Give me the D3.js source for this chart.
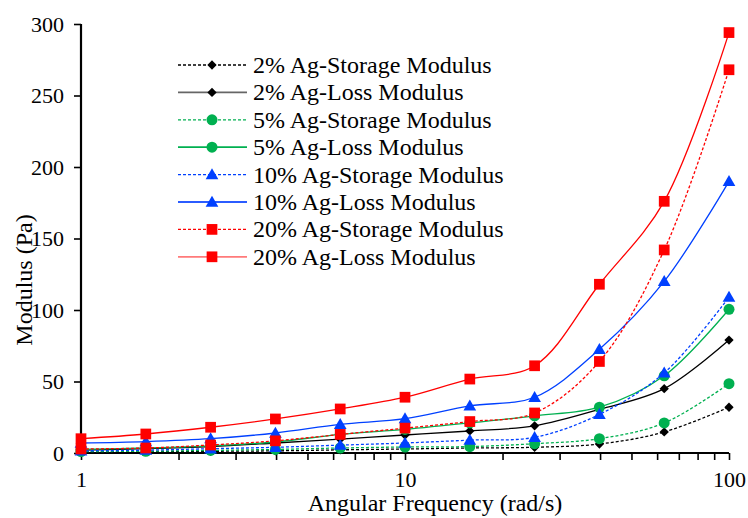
<!DOCTYPE html>
<html>
<head>
<meta charset="utf-8">
<script src="https://cdn.jsdelivr.net/npm/d3@7"></script>
<style>
  html, body { margin: 0; padding: 0; background: #fff; }
  svg { display: block; font-family: "Liberation Serif", "Times New Roman", serif; }
</style>
</head>
<body>
<svg id="chart" width="748" height="518"></svg>
<script>
// Angular frequency sweep (rad/s)
const frequency = [1, 1.585, 2.512, 3.981, 6.31, 10, 15.85, 25.12, 39.81, 63.1, 100];

// Modulus values (Pa) per silver loading
const ag2Storage  = [0.8, 1.0, 1.2, 1.5, 2.2, 2.8, 3.5, 4.0, 6.3, 14.7, 32];
const ag2Loss     = [2.0, 3.0, 4.5, 7.0, 9.7, 12.6, 15.4, 19, 30.5, 45, 79];
const ag5Storage  = [1.0, 1.2, 1.8, 2.5, 3.5, 4.2, 4.5, 6.5, 10, 21, 48.5];
const ag5Loss     = [2.5, 3.5, 5.0, 7.7, 13, 16.5, 21, 26, 32, 54, 100.5];
const ag10Storage = [1.5, 2.0, 3.0, 4.0, 5.5, 7.0, 9.0, 11, 27, 56, 109];
const ag10Loss    = [7.0, 8.0, 10, 14, 20, 24, 33, 39, 72.5, 120, 190];
const ag20Storage = [2.8, 3.5, 5.6, 8.5, 13, 17.4, 22, 28, 64, 142, 268];
const ag20Loss    = [10, 13.3, 18, 23.8, 30.8, 39, 51.7, 61, 118, 176, 294];

const xTicks = [1, 10, 100];
const yTicks = [0, 50, 100, 150, 200, 250, 300];

const seriesNames = [
  "2% Ag-Storage Modulus", "2% Ag-Loss Modulus",
  "5% Ag-Storage Modulus", "5% Ag-Loss Modulus",
  "10% Ag-Storage Modulus", "10% Ag-Loss Modulus",
  "20% Ag-Storage Modulus", "20% Ag-Loss Modulus"
];
const seriesValues = [ag2Storage, ag2Loss, ag5Storage, ag5Loss, ag10Storage, ag10Loss, ag20Storage, ag20Loss];
const seriesColors = ["#000000", "#000000", "#00B050", "#00B050", "#0040FF", "#0040FF", "#FF0000", "#FF0000"];
const legendLineColors = ["#000000", "#666666", "#00B050", "#00B050", "#0040FF", "#2b5cff", "#FF0000", "#ff7a7a"];
const seriesMarkers = ["diamond", "diamond", "circle", "circle", "triangle", "triangle", "square", "square"];
const seriesDashed = [true, false, true, false, true, false, true, false];

const svg = d3.select("#chart");
const plotLeft = 81, plotRight = 729, plotTop = 24, plotBottom = 453;

const x = d3.scaleLog().domain([1, 100]).range([plotLeft, plotRight]);
const y = d3.scaleLinear().domain([0, 300]).range([plotBottom, plotTop]);

// y axis
const yAxis = svg.append("g")
  .attr("transform", `translate(${plotLeft},0)`)
  .call(d3.axisLeft(y).tickValues(yTicks).tickSize(7).tickPadding(10).tickFormat(d3.format("d")));
// x axis with log minor ticks
const minorTicks = [];
for (let dec = 1; dec < 100; dec *= 10) for (let k = 1; k <= 9; k++) minorTicks.push(dec * k);
minorTicks.push(100);
const xAxis = svg.append("g")
  .attr("transform", `translate(0,${plotBottom})`)
  .call(d3.axisBottom(x).tickValues(minorTicks).tickSize(7).tickPadding(11)
    .tickFormat(d => xTicks.includes(d) ? d3.format("d")(d) : ""));

[yAxis, xAxis].forEach(g => {
  g.select(".domain").attr("stroke", "#000").attr("stroke-width", 2.2);
  g.selectAll(".tick line").attr("stroke", "#000").attr("stroke-width", 1.6);
  g.selectAll("text").attr("fill", "#000").style("font-size", "22px")
    .style("font-family", "'Liberation Serif', 'Times New Roman', serif");
});
yAxis.select(".domain").attr("d", `M0,${plotBottom}V${plotTop}`);
xAxis.select(".domain").attr("d", `M${plotLeft},0H${plotRight}`);

// axis titles
svg.append("text")
  .attr("x", 435).attr("y", 511)
  .attr("text-anchor", "middle")
  .style("font-size", "24px")
  .text("Angular Frequency (rad/s)");
svg.append("text")
  .attr("transform", "translate(32,280) rotate(-90)")
  .attr("text-anchor", "middle")
  .style("font-size", "24px")
  .text("Modulus (Pa)");

// marker drawing
const symbolTypes = {
  diamond: d3.symbolDiamond2,
  circle: d3.symbolCircle,
  triangle: d3.symbolTriangle,
  square: d3.symbolSquare
};
const symbolSizes = { diamond: 55, circle: 95, triangle: 70, square: 115 };
function marker(g, type, color, cx, cy) {
  g.append("path")
    .attr("d", d3.symbol().type(symbolTypes[type]).size(symbolSizes[type])())
    .attr("transform", `translate(${cx},${cy})` + (type === "triangle" ? " translate(0,1)" : ""))
    .attr("fill", color);
}

const line = d3.line()
  .x(d => x(d[0]))
  .y(d => y(d[1]))
  .curve(d3.curveCatmullRom.alpha(0.5));

const plot = svg.append("g");
seriesValues.forEach((vals, i) => {
  const pts = frequency.map((f, j) => [f, vals[j]]);
  const g = plot.append("g");
  g.append("path")
    .attr("d", line(pts))
    .attr("fill", "none")
    .attr("stroke", seriesColors[i])
    .attr("stroke-width", 1.3)
    .attr("stroke-dasharray", seriesDashed[i] ? "3,2" : null);
  pts.forEach(p => marker(g, seriesMarkers[i], seriesColors[i], x(p[0]), y(p[1])));
});

// legend
const legend = svg.append("g");
seriesNames.forEach((name, i) => {
  const ly = 65 + i * 27.4;
  legend.append("line")
    .attr("x1", 178).attr("x2", 247).attr("y1", ly).attr("y2", ly)
    .attr("stroke", legendLineColors[i])
    .attr("stroke-width", seriesDashed[i] ? 1.3 : 1.8)
    .attr("stroke-dasharray", seriesDashed[i] ? "3,2" : null);
  marker(legend, seriesMarkers[i], seriesColors[i], 212, ly);
  legend.append("text")
    .attr("x", 253).attr("y", ly + 8)
    .style("font-size", "24px")
    .text(name);
});
</script>
</body>
</html>
